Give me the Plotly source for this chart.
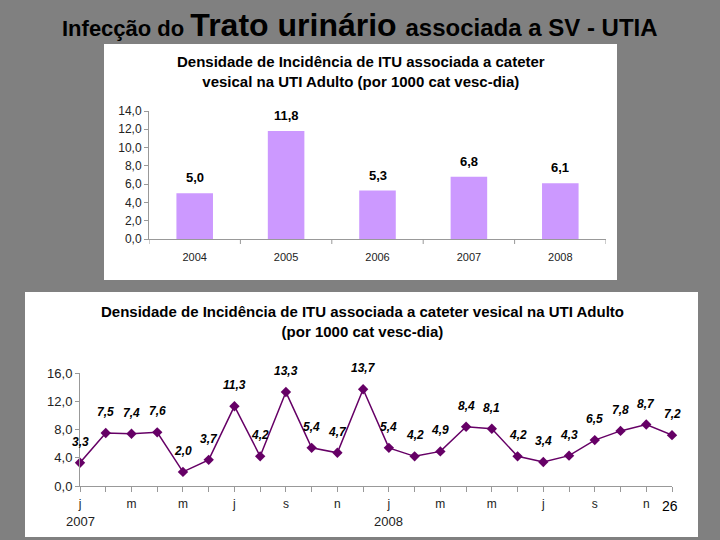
import plotly.graph_objects as go

# ---- data ----
years = ["2004", "2005", "2006", "2007", "2008"]
year_rates = [5.0, 11.8, 5.3, 6.8, 6.1]

month_labels = ["j", "", "m", "", "m", "", "j", "", "s", "", "n", "",
                "j", "", "m", "", "m", "", "j", "", "s", "", "n", ""]
month_rates = [3.3, 7.5, 7.4, 7.6, 2.0, 3.7, 11.3, 4.2, 13.3, 5.4, 4.7, 13.7,
               5.4, 4.2, 4.9, 8.4, 8.1, 4.2, 3.4, 4.3, 6.5, 7.8, 8.7, 7.2]
year_marks = ["2007", "2008"]
year_mark_pos = [0, 12]

W, H = 720, 540
def px(x): return x / W
def py(y): return 1 - y / H

def fmt(v):
    return f"{v:.1f}".replace(".", ",")

FONT = "Liberation Sans, Arial"

fig = go.Figure()

yidx = list(range(len(years)))
fig.add_trace(go.Bar(
    x=yidx, y=year_rates, marker=dict(color="#CC99FF", line=dict(width=0)),
    width=0.4, xaxis="x", yaxis="y", showlegend=False))

idx = list(range(len(month_rates)))
fig.add_trace(go.Scatter(
    x=idx, y=month_rates, mode="lines+markers",
    line=dict(color="#660066", width=1.5),
    marker=dict(symbol="diamond", size=8, color="#660066"),
    cliponaxis=False,
    xaxis="x2", yaxis="y2", showlegend=False))

axis_line = dict(showline=True, linecolor="#999999", linewidth=1,
                 ticks="outside", tickcolor="#999999", showgrid=False, zeroline=False)

fig.update_layout(
    width=W, height=H, margin=dict(l=0, r=0, t=0, b=0, autoexpand=False),
    paper_bgcolor="#808080", plot_bgcolor="rgba(0,0,0,0)",
    separators=",.", showlegend=False,
    xaxis=dict(domain=[px(149), px(606)], anchor="y", range=[-0.5, len(years) - 0.5],
               tickvals=yidx, ticktext=years, ticklen=0, ticklabelstandoff=8,
               tickfont=dict(family=FONT, size=11, color="#222222"), **axis_line),
    yaxis=dict(domain=[py(239), py(111)], anchor="x", range=[0, 14],
               tickvals=[0, 2, 4, 6, 8, 10, 12, 14], tickformat=".1f", ticklen=4,
               tickfont=dict(family=FONT, size=12, color="#222222"), **axis_line),
    xaxis2=dict(domain=[px(80), px(672)], anchor="y2", range=[0, 23],
                tickvals=idx, ticktext=month_labels, ticklen=5, ticklabelstandoff=2,
                tickfont=dict(family=FONT, size=12, color="#222222"), **axis_line),
    yaxis2=dict(domain=[py(486), py(373)], anchor="x2", range=[0, 16],
                tickvals=[0, 4, 8, 12, 16], tickformat=".1f", ticklen=4,
                tickfont=dict(family=FONT, size=13, color="#222222"), **axis_line),
    shapes=[
        dict(type="rect", xref="paper", yref="paper", x0=px(104), x1=px(617),
             y0=py(280), y1=py(44), fillcolor="white", line=dict(width=0), layer="below"),
        dict(type="rect", xref="paper", yref="paper", x0=px(25), x1=px(698),
             y0=py(537), y1=py(292), fillcolor="white", line=dict(width=0), layer="below"),
    ],
)
# tick marks between year categories (boundaries)
for b in [i - 0.5 for i in range(len(years) + 1)]:
    fig.add_shape(type="line", xref="x", yref="paper", x0=b, x1=b,
                  y0=py(239), y1=py(244), line=dict(color="#999999", width=1))

bold_title = dict(family=FONT, size=15, color="black", weight="bold")
ann = [
    dict(x=px(360), y=py(25), xref="paper", yref="paper", showarrow=False,
         xanchor="center", yanchor="middle",
         text=("<span style='font-size:22px'>Infecção do </span>"
               "<span style='font-size:32px'>Trato urinário </span>"
               "<span style='font-size:24px'>associada a SV - UTIA</span>"),
         font=dict(family=FONT, color="black", weight="bold", size=24)),
    dict(x=px(361), y=py(71), xref="paper", yref="paper", showarrow=False,
         xanchor="center", yanchor="middle",
         text="Densidade de Incidência de ITU associada a cateter<br>vesical na UTI Adulto (por 1000 cat vesc-dia)",
         font=bold_title),
    dict(x=px(362), y=py(321), xref="paper", yref="paper", showarrow=False,
         xanchor="center", yanchor="middle",
         text="Densidade de Incidência de ITU associada a cateter vesical na UTI Adulto<br>(por 1000 cat vesc-dia)",
         font=bold_title),
    dict(x=px(670), y=py(506), xref="paper", yref="paper", showarrow=False, text="26",
         xanchor="center", yanchor="middle",
         font=dict(family=FONT, size=14, color="black")),
]
for yl, pos in zip(year_marks, year_mark_pos):
    ann.append(dict(x=pos, y=py(521), xref="x2", yref="paper", showarrow=False, text=yl,
                    xanchor="center", yanchor="middle",
                    font=dict(family=FONT, size=13, color="#222222")))
for i, v in zip(yidx, year_rates):
    ann.append(dict(x=i, y=v, xref="x", yref="y", showarrow=False, text=fmt(v),
                    xanchor="center", yanchor="bottom", yshift=6,
                    font=dict(family=FONT, size=13, color="black", weight="bold")))
for i, v in zip(idx, month_rates):
    ann.append(dict(x=i, y=v, xref="x2", yref="y2", showarrow=False,
                    text="<i>" + fmt(v) + "</i>", xanchor="center", yanchor="middle", yshift=21,
                    font=dict(family=FONT, size=12, color="black", weight="bold")))
fig.update_layout(annotations=ann)

fig.write_html("out.html", config={"displayModeBar": False},
               post_script="document.body.style.margin='0';document.body.style.overflow='hidden';")
